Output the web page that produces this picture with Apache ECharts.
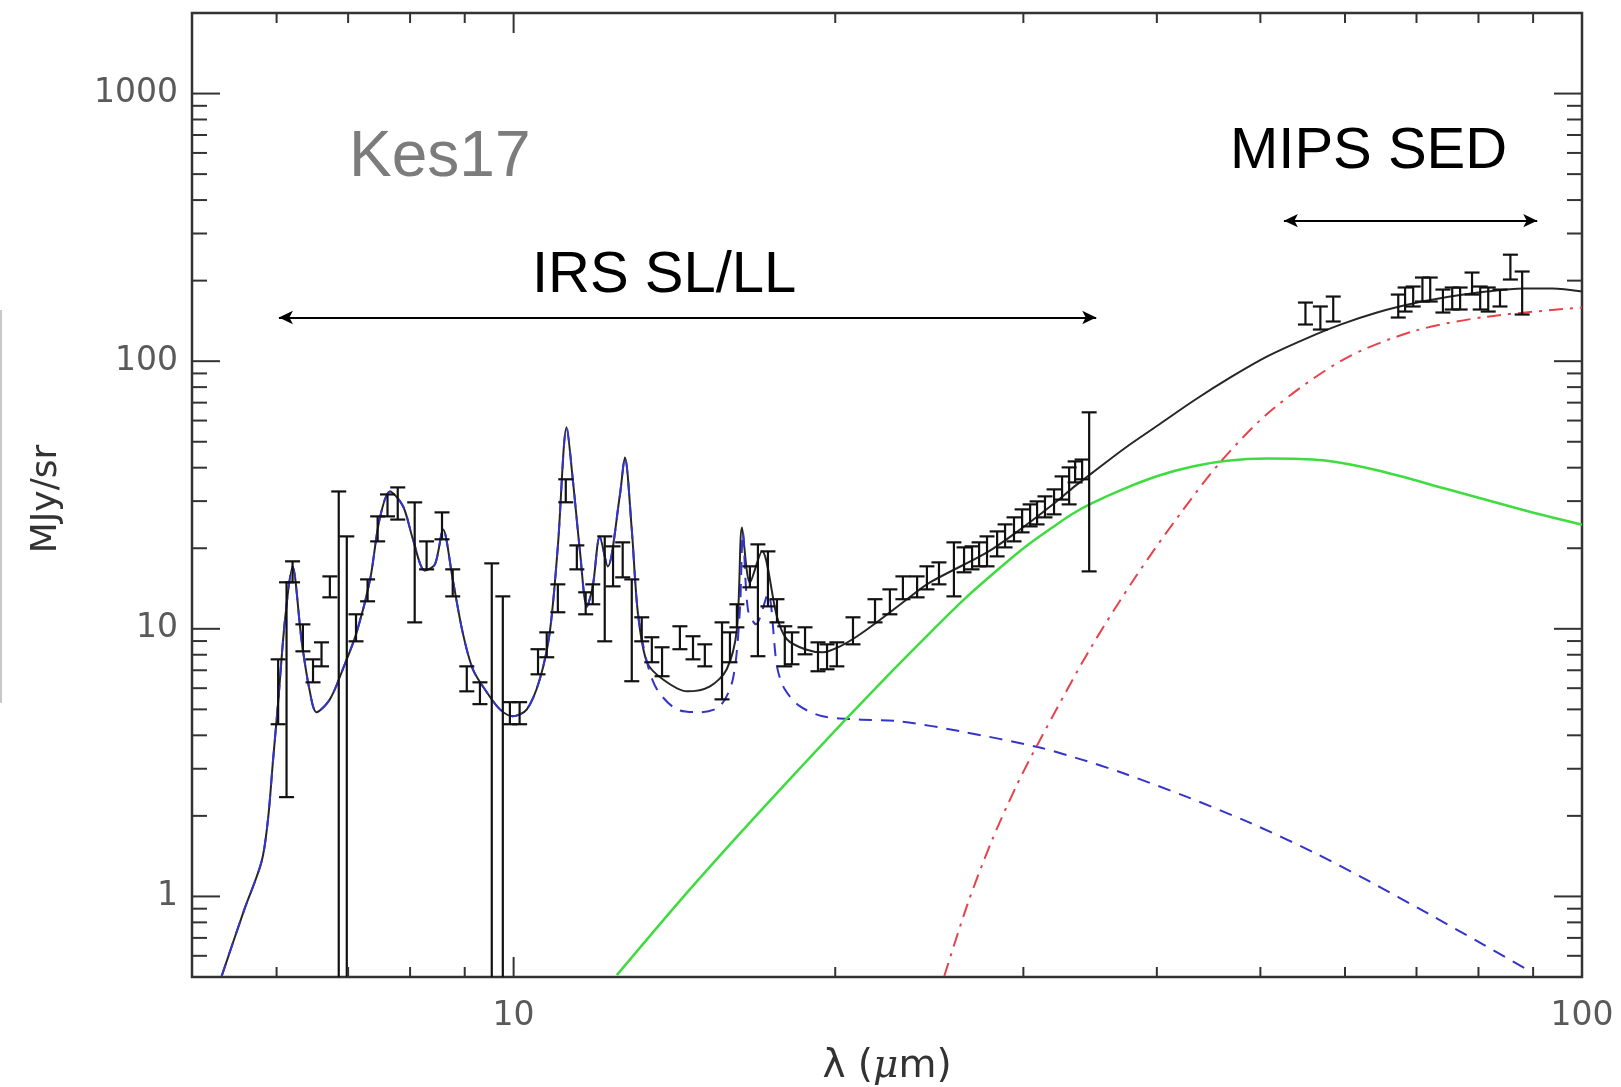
<!DOCTYPE html>
<html>
<head>
<meta charset="utf-8">
<script src="https://cdn.jsdelivr.net/npm/echarts@6/dist/echarts.min.js"></script>
<style>
html,body{margin:0;padding:0;background:#ffffff;}
#c{width:1621px;height:1087px;}
</style>
</head>
<body>
<div id="c"></div>
<script>
// ---------- axis ticks ----------
const xMajorTicks = [10, 100];
const xMinorTicks = [6, 7, 8, 9, 20, 30, 40, 50, 60, 70, 80, 90];
const yMajorTicks = [1, 10, 100, 1000];
const yMinorTicks = [0.6, 0.7, 0.8, 0.9, 2, 3, 4, 5, 6, 7, 8, 9, 20, 30, 40, 50, 60, 70, 80, 90, 200, 300, 400, 500, 600, 700, 800, 900];

// ---------- measured spectrum (error bars) ----------
const obsLambda = [6.02, 6.13, 6.21, 6.35, 6.49, 6.61, 6.73, 6.86, 6.98, 7.12, 7.30, 7.46, 7.62, 7.79, 8.08, 8.29, 8.57, 8.77, 9.04, 9.30,
  9.54, 9.77, 9.92, 10.13, 10.54, 10.74, 11.00, 11.19, 11.46, 11.68, 11.86, 12.17, 12.39, 12.65, 12.90, 13.18, 13.47, 13.77, 14.31, 14.72,
  15.10, 15.67, 15.94, 16.18, 16.64, 16.93, 17.30, 17.64, 17.94, 18.22, 18.74, 19.27, 19.65, 20.07, 20.78, 21.79, 22.50, 23.14, 23.86, 24.37,
  25.01, 25.83, 26.40, 26.86, 27.27, 27.74, 28.35, 28.84, 29.40, 29.92, 30.44, 30.90, 31.43, 32.05, 32.61, 33.11, 33.54, 34.05, 34.57,
  55.1, 56.9, 58.5, 67.3, 68.3, 69.5, 70.9, 72.1, 74.1, 75.6, 76.9, 78.9, 80.3, 81.7, 83.8, 85.7, 87.9];
const obsLow = [4.40, 2.35, 14.92, 8.24, 6.31, 7.24, 13.11, 0.1, 0.1, 8.98, 12.67, 21.22, 26.31, 25.6, 10.57, 16.68, 21.6, 13.22, 5.84, 5.23,
  0.1, 0.1, 4.40, 4.40, 6.76, 7.83, 11.53, 29.7, 16.68, 11.33, 12.35, 8.98, 14.41, 15.57, 6.37, 8.98, 7.50, 6.65, 8.39, 7.69,
  7.24, 5.45, 7.50, 10.13, 14.29, 7.90, 12.13, 10.57, 7.24, 7.37, 8.03, 6.94, 7.06, 7.24, 8.75, 10.57, 11.33, 12.9, 13.11, 14.04,
  14.66, 13.22, 16.26, 16.68, 17.12, 17.12, 18.65, 20.15, 21.22, 22.93, 24.14, 24.56, 26.09, 26.77, 30.4, 29.17, 35.24, 36.2, 16.39,
  137.1, 131.3, 140.7, 145.6, 153.3, 160.1, 167.1, 167.1, 152.0, 156.0, 156.0, 177.4, 156.0, 153.3, 160.1, 201.9, 149.4];
const obsHigh = [7.69, 14.92, 17.87, 10.39, 7.69, 8.90, 15.70, 32.6, 22.15, 11.33, 15.30, 26.31, 31.78, 33.76, 29.68, 21.22, 27.23, 16.68, 7.24, 6.31,
  17.56, 13.22, 5.32, 5.32, 8.39, 9.70, 14.66, 36.2, 20.50, 13.69, 14.66, 22.15, 20.33, 21.04, 15.30, 11.04, 9.30, 8.53, 10.22, 9.38,
  8.75, 10.57, 9.70, 12.35, 17.12, 20.68, 19.47, 12.9, 10.22, 9.70, 10.13, 8.90, 8.75, 8.90, 11.04, 12.9, 14.04, 15.70, 15.70, 17.12,
  17.71, 21.04, 20.15, 20.33, 21.04, 22.15, 23.12, 24.56, 26.09, 27.94, 29.17, 29.93, 31.25, 33.19, 37.11, 40.10, 42.22, 42.9, 64.4,
  165.6, 160.1, 174.4, 177.4, 188.5, 190.1, 205.4, 205.4, 185.2, 188.5, 188.5, 214.4, 190.1, 188.5, 185.2, 250, 216.3];

// ---------- model: total (black solid) ----------
const totalLambda = [5.33, 5.59, 5.81, 5.89, 5.95, 6.02, 6.11, 6.21, 6.33, 6.44, 6.54, 6.73, 6.92, 7.13, 7.34, 7.49, 7.66, 7.88, 8.05, 8.26,
  8.44, 8.59, 8.77, 8.96, 9.16, 9.44, 9.71, 9.98, 10.29, 10.58, 10.81, 11.00, 11.21, 11.36, 11.54, 11.71, 11.86, 12.04, 12.25, 12.57,
  12.71, 12.90, 13.07, 13.33, 13.79, 14.53, 15.27, 15.83, 16.18, 16.36, 16.64, 17.08, 17.64, 18.02, 18.74, 19.47, 20.21, 20.97, 21.89, 23.35,
  24.53, 27.74, 29.79, 31.98, 33.5, 34.8, 37.35, 40.2, 43.4, 47.0, 50.8, 55.1, 59.5, 64.3, 69.6, 75.3, 81.4, 88.1, 93.8, 100];
const totalFlux = [0.504, 0.881, 1.354, 1.944, 3.12, 5.32, 10.85, 17.1, 9.14, 5.94, 4.88, 5.45, 7.06, 9.70, 15.3, 25.6, 32.6, 28.7, 21.6, 16.5,
  17.4, 23.5, 15.3, 9.70, 7.06, 5.79, 5.00, 4.71, 5.00, 6.48, 9.70, 20.3, 56.6, 36.2, 19.3, 12.1, 14.4, 22.1, 17.1, 31.3,
  43.7, 23.5, 11.5, 7.50, 6.48, 5.84, 6.10, 7.06, 9.96, 23.9, 14.9, 19.5, 11.1, 9.14, 8.39, 8.17, 8.60, 9.38, 10.6, 12.9,
  14.9, 19.3, 23.5, 29.2, 34.05, 38.24, 47.4, 58.0, 71.6, 87.5, 104.4, 121.2, 137.2, 152.0, 164.5, 174.4, 182.1, 186.8, 186.8, 182.1];

// ---------- model: small grains / PAH (blue dashed) ----------
const pahLambda = [5.33, 5.59, 5.81, 5.89, 5.95, 6.02, 6.11, 6.21, 6.33, 6.44, 6.54, 6.73, 6.92, 7.13, 7.34, 7.49, 7.66, 7.88, 8.05, 8.26,
  8.44, 8.59, 8.77, 8.96, 9.16, 9.44, 9.71, 9.98, 10.29, 10.58, 10.81, 11.00, 11.21, 11.36, 11.54, 11.71, 11.86, 12.04, 12.25, 12.57,
  12.71, 12.90, 13.07, 13.33, 13.62, 14.22, 14.94, 15.60, 16.04, 16.28, 16.39, 16.57, 16.86, 17.30, 17.64, 17.94, 18.53, 19.47, 20.97, 23.0,
  26.2, 31.0, 33.9, 37.0, 42.5, 48.8, 56.1, 63.2, 71.9, 81.0, 89.4];
const pahFlux = [0.504, 0.881, 1.354, 1.944, 3.12, 5.32, 10.85, 17.1, 9.14, 5.94, 4.88, 5.45, 7.06, 9.70, 15.3, 25.6, 32.6, 28.7, 21.6, 16.5,
  17.4, 23.5, 15.3, 9.70, 7.06, 5.79, 5.00, 4.71, 5.00, 6.48, 9.70, 20.3, 56.6, 36.2, 19.3, 12.1, 14.4, 22.1, 17.1, 31.3,
  43.7, 23.5, 11.5, 7.50, 5.94, 5.00, 4.88, 5.14, 6.48, 11.5, 22.9, 11.8, 10.4, 13.5, 7.24, 5.94, 5.14, 4.71, 4.59, 4.51,
  4.14, 3.61, 3.26, 2.91, 2.37, 1.89, 1.46, 1.14, 0.859, 0.658, 0.526];

// ---------- model: warm dust (green solid) ----------
const warmLambda = [12.49, 14.31, 16.28, 18.53, 20.29, 22.5, 24.69, 26.6, 28.71, 30.3, 31.98, 33.3, 34.79, 37.35, 40.2, 43.2, 46.3, 50.8, 57.2, 64.3, 75.3, 88.1, 100];
const warmFlux = [0.508, 0.963, 1.716, 3.01, 4.43, 6.81, 9.91, 13.24, 17.27, 20.6, 24.0, 26.8, 29.5, 33.5, 37.4, 40.4, 42.4, 43.3, 42.6, 39.1, 33.0, 27.8, 24.5];

// ---------- model: cold dust (red dash-dot) ----------
const coldLambda = [25.3, 26.6, 28.0, 29.5, 31.1, 34.6, 38.2, 42.1, 46.1, 51.3, 59.9, 69.6, 81.4, 100];
const coldFlux = [0.504, 0.936, 1.60, 2.55, 3.85, 8.34, 15.61, 27.04, 42.95, 66.0, 101.8, 129.5, 146.6, 158.7];

// ---------- annotations (wavelength ranges of the instruments) ----------
const irsRange = [6.03, 35.1];
const irsArrowLevel = 145.6;
const mipsRange = [52.6, 90.8];
const mipsArrowLevel = 335;

const pairs = (xs, ys) => xs.map((x, i) => [x, ys[i]]);
const isPow10 = v => Math.abs(Math.log10(v) - Math.round(Math.log10(v))) < 1e-6;

const TICK_COLOR = '#333333';
const LABEL_FONT = '"DejaVu Sans", sans-serif';

const chart = echarts.init(document.getElementById('c'), null, {renderer: 'canvas', width: 1621, height: 1087});

const option = {
  animation: false,
  backgroundColor: '#ffffff',
  grid: {
    left: 192, right: 39, top: 13, bottom: 110,
    show: true, borderColor: '#333333', borderWidth: 2.5, backgroundColor: 'transparent',
    containLabel: false, outerBoundsMode: 'none'
  },
  xAxis: {
    type: 'log', logBase: 10, min: 5, max: 100,
    axisLine: {show: false}, axisTick: {show: false}, splitLine: {show: false},
    axisLabel: {
      formatter: v => isPow10(v) ? String(Math.round(v)) : '',
      fontFamily: LABEL_FONT, fontSize: 33, color: '#5a5a5a', margin: 23,
      showMinLabel: true, showMaxLabel: true, hideOverlap: false
    },
    name: 'λ ({m|μ}m)', nameLocation: 'middle', nameGap: 70,
    nameTextStyle: {fontFamily: LABEL_FONT, fontSize: 39, color: '#333333',
      rich: {m: {fontFamily: '"DejaVu Serif", serif', fontStyle: 'italic', fontSize: 39, color: '#333333'}}}
  },
  yAxis: {
    type: 'log', logBase: 10, min: 0.5, max: 2000,
    axisLine: {show: false}, axisTick: {show: false}, splitLine: {show: false},
    axisLabel: {
      formatter: v => isPow10(v) ? String(Math.round(v)) : '',
      fontFamily: LABEL_FONT, fontSize: 33, color: '#5a5a5a', margin: 14,
      showMinLabel: true, showMaxLabel: true, hideOverlap: false
    }
  },
  graphic: [
    {type: 'rect', shape: {x: 0, y: 310, width: 2, height: 393}, style: {fill: '#c8c8c8'}, silent: true},
    {type: 'text', x: 47, y: 499, rotation: Math.PI / 2,
      style: {text: 'MJy/sr', font: '36px "DejaVu Sans", sans-serif', fill: '#333333', textAlign: 'center', textVerticalAlign: 'middle'}, silent: true},
    {type: 'text', x: 349, y: 158, style: {text: 'Kes17', font: '64px "Liberation Sans", sans-serif', fill: '#7c7c7c', textVerticalAlign: 'middle'}, silent: true},
    {type: 'text', x: 532, y: 276, style: {text: 'IRS SL/LL', font: '58px "Liberation Sans", sans-serif', fill: '#000000', textVerticalAlign: 'middle'}, silent: true},
    {type: 'text', x: 1230, y: 152, style: {text: 'MIPS SED', font: '58px "Liberation Sans", sans-serif', fill: '#000000', textVerticalAlign: 'middle'}, silent: true}
  ],
  series: [
    {
      name: 'total', type: 'line', data: pairs(totalLambda, totalFlux),
      showSymbol: false, smooth: 0.3, z: 2,
      lineStyle: {color: '#262626', width: 2},
      markLine: {
        silent: true, symbol: ['arrow', 'arrow'], symbolSize: [10, 14],
        label: {show: false},
        lineStyle: {color: '#000000', width: 2, type: 'solid'},
        data: [
          [{coord: [irsRange[0], irsArrowLevel]}, {coord: [irsRange[1], irsArrowLevel]}],
          [{coord: [mipsRange[0], mipsArrowLevel]}, {coord: [mipsRange[1], mipsArrowLevel]}]
        ]
      }
    },
    {
      name: 'pah', type: 'line', data: pairs(pahLambda, pahFlux),
      showSymbol: false, smooth: 0.3, z: 3,
      lineStyle: {color: '#3434cc', width: 2, type: [13, 9]}
    },
    {
      name: 'warm', type: 'line', data: pairs(warmLambda, warmFlux),
      showSymbol: false, smooth: 0.3, z: 3,
      lineStyle: {color: '#3fdc3f', width: 2.5}
    },
    {
      name: 'cold', type: 'line', data: pairs(coldLambda, coldFlux),
      showSymbol: false, smooth: 0.3, z: 3,
      lineStyle: {color: '#e8414a', width: 2, type: [14, 7, 3, 7]}
    },
    {
      name: 'obs', type: 'custom', coordinateSystem: 'cartesian2d', z: 4, clip: true,
      data: obsLambda.map((l, i) => [l, obsLow[i], obsHigh[i]]),
      encode: {x: 0, y: [1, 2]},
      renderItem: (params, api) => {
        const l = api.value(0);
        const pLo = api.coord([l, api.value(1)]);
        const pHi = api.coord([l, api.value(2)]);
        const hw = 7.5;
        const st = {stroke: '#111111', lineWidth: 2.2};
        return {type: 'group', children: [
          {type: 'line', shape: {x1: pHi[0], y1: pHi[1], x2: pLo[0], y2: pLo[1]}, style: st},
          {type: 'line', shape: {x1: pHi[0] - hw, y1: pHi[1], x2: pHi[0] + hw, y2: pHi[1]}, style: st},
          {type: 'line', shape: {x1: pLo[0] - hw, y1: pLo[1], x2: pLo[0] + hw, y2: pLo[1]}, style: st}
        ]};
      }
    },
    {
      name: 'xticks', type: 'custom', coordinateSystem: 'cartesian2d', z: 5, clip: false, silent: true,
      data: xMajorTicks.map(v => [v, 1, 1]).concat(xMinorTicks.map(v => [v, 1, 0])),
      encode: {x: 0, y: 1},
      renderItem: (params, api) => {
        const cs = params.coordSys;
        const px = api.coord([api.value(0), 1])[0];
        const len = api.value(2) ? 20 : 10;
        const st = {stroke: TICK_COLOR, lineWidth: 2};
        const yb = cs.y + cs.height, yt = cs.y;
        return {type: 'group', children: [
          {type: 'line', shape: {x1: px, y1: yb, x2: px, y2: yb - len}, style: st},
          {type: 'line', shape: {x1: px, y1: yt, x2: px, y2: yt + len}, style: st}
        ]};
      }
    },
    {
      name: 'yticks', type: 'custom', coordinateSystem: 'cartesian2d', z: 5, clip: false, silent: true,
      data: yMajorTicks.map(v => [10, v, 1]).concat(yMinorTicks.map(v => [10, v, 0])),
      encode: {x: 0, y: 1},
      renderItem: (params, api) => {
        const cs = params.coordSys;
        const py = api.coord([10, api.value(1)])[1];
        const len = api.value(2) ? 28 : 15;
        const st = {stroke: TICK_COLOR, lineWidth: 2};
        const xl = cs.x, xr = cs.x + cs.width;
        return {type: 'group', children: [
          {type: 'line', shape: {x1: xl, y1: py, x2: xl + len, y2: py}, style: st},
          {type: 'line', shape: {x1: xr, y1: py, x2: xr - len, y2: py}, style: st}
        ]};
      }
    }
  ]
};

chart.setOption(option);
</script>
</body>
</html>
